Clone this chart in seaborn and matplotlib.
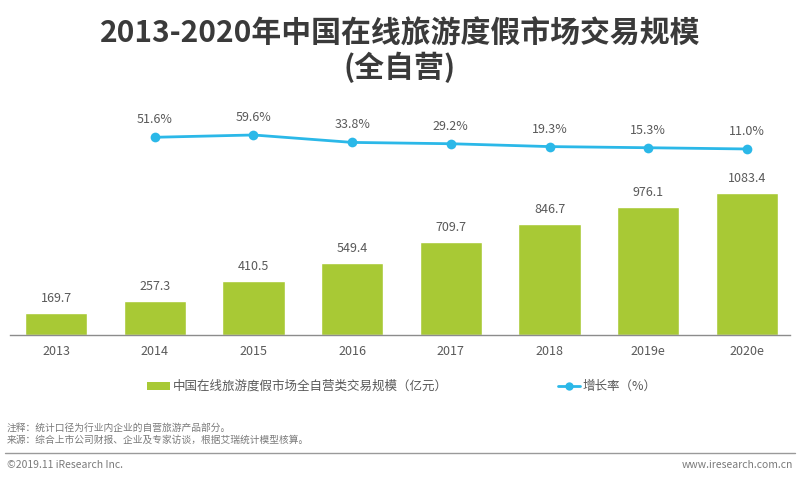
import matplotlib
matplotlib.use("Agg")
import matplotlib.pyplot as plt
import seaborn as sns
import pandas as pd
from matplotlib.patches import Rectangle
from matplotlib.lines import Line2D

years = ["2013", "2014", "2015", "2016", "2017", "2018", "2019e", "2020e"]
scale = [169.7, 257.3, 410.5, 549.4, 709.7, 846.7, 976.1, 1083.4]
growth_years = ["2014", "2015", "2016", "2017", "2018", "2019e", "2020e"]
growth = [51.6, 59.6, 33.8, 29.2, 19.3, 15.3, 11.0]

title1 = "2013-2020年中国在线旅游度假市场交易规模"
title2 = "(全自营)"
bar_label = "中国在线旅游度假市场全自营类交易规模（亿元）"
line_label = "增长率（%）"
note1 = "注释：统计口径为行业内企业的自营旅游产品部分。"
note2 = "来源：综合上市公司财报、企业及专家访谈，根据艾瑞统计模型核算。"
copyright_txt = "©2019.11 iResearch Inc."
site_txt = "www.iresearch.com.cn"

sns.set_theme(style="white")
plt.rcParams['font.family'] = ['Noto Sans CJK SC', 'DejaVu Sans']

GREEN = "#A8C935"
BLUE = "#2BB8E8"
TXT = "#595959"
NOTE = "#7a7a7a"

fig = plt.figure(figsize=(8, 4.8), dpi=100)
ax = fig.add_axes([10/800, 1-335/480, 780/800, 235/480])

df = pd.DataFrame({"year": years, "scale": scale})
sns.barplot(data=df, x="year", y="scale", order=years, color=GREEN,
            width=0.63, ax=ax, saturation=1)
ax.set_xlim(-0.466, 7.436)
ax.set_ylim(0, 1793)
for i, v in enumerate(scale):
    ax.text(i, v + 60, f"{v:.1f}", ha="center", va="bottom", fontsize=9, color=TXT)
ax.set_xlabel("")
ax.set_ylabel("")
ax.set_yticks([])
ax.tick_params(axis="x", length=0, labelsize=9, labelcolor=TXT, pad=7)
for s in ["top", "right", "left"]:
    ax.spines[s].set_visible(False)
ax.spines["bottom"].set_color("#8c8c8c")
ax.spines["bottom"].set_linewidth(1)

ax2 = ax.twinx()
gdf = pd.DataFrame({"pos": [years.index(y) for y in growth_years], "growth": growth})
sns.lineplot(data=gdf, x="pos", y="growth", ax=ax2, color=BLUE, linewidth=2,
             marker="o", markersize=7, markeredgewidth=0, markeredgecolor=BLUE)
ax2.set_ylim(-634.7, 181)
ax2.set_xlim(-0.466, 7.436)
for p, g in zip(gdf["pos"], growth):
    ax2.text(p, g + 38, f"{g:.1f}%", ha="center", va="bottom", fontsize=9, color=TXT)
ax2.set_yticks([])
ax2.set_ylabel("")
ax2.set_xlabel("")
for s in ["top", "right", "left", "bottom"]:
    ax2.spines[s].set_visible(False)

fig.text(0.5, 1-34/480, title1, ha="center", va="center",
         fontsize=21.5, fontweight="bold", color="#3a3a3a")
fig.text(0.5, 1-67/480, title2, ha="center", va="center",
         fontsize=21.5, fontweight="bold", color="#3a3a3a")

# legend
fig.patches.append(Rectangle((147/800, 1-390/480), 23/800, 8/480, transform=fig.transFigure,
                             facecolor=GREEN, edgecolor="none"))
fig.text(173/800, 1-386/480, bar_label, ha="left", va="center", fontsize=9, color=TXT)
fig.lines.append(Line2D([558/800, 580/800], [1-386/480, 1-386/480], transform=fig.transFigure,
                        color=BLUE, linewidth=2))
fig.lines.append(Line2D([569/800], [1-386/480], transform=fig.transFigure, color=BLUE,
                        marker="o", markersize=6, markeredgewidth=0, linestyle="None"))
fig.text(583/800, 1-386/480, line_label, ha="left", va="center", fontsize=9, color=TXT)

# notes
fig.text(7/800, 1-428/480, note1, ha="left", va="center", fontsize=7, color=NOTE)
fig.text(7/800, 1-440/480, note2, ha="left", va="center", fontsize=7, color=NOTE)
fig.lines.append(Line2D([5/800, 795/800], [1-453/480, 1-453/480], transform=fig.transFigure,
                        color="#9a9a9a", linewidth=1))
fig.text(7/800, 1-465/480, copyright_txt, ha="left", va="center", fontsize=7.5, color=NOTE)
fig.text(793/800, 1-465/480, site_txt, ha="right", va="center", fontsize=7.5, color=NOTE)

fig.savefig("out.png", dpi=100)
